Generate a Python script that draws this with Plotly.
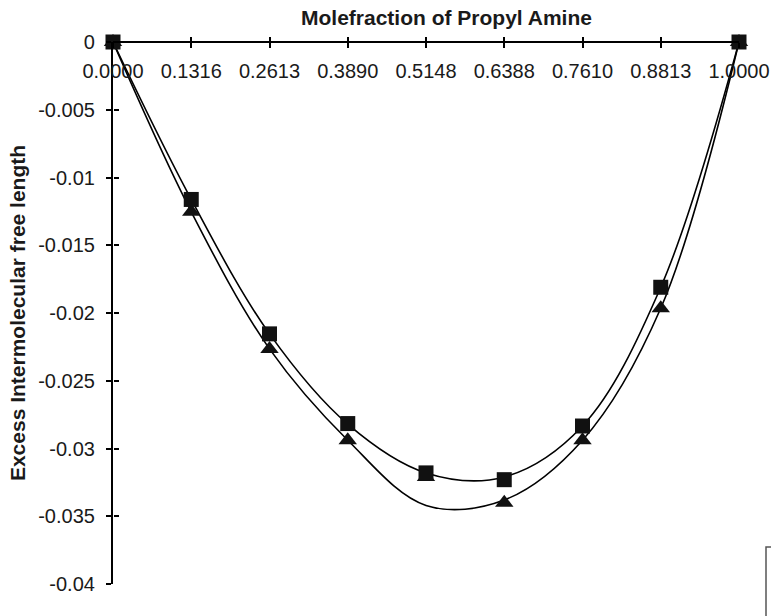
import plotly.graph_objects as go

# ---- data ----
categories = ["0.0000", "0.1316", "0.2613", "0.3890", "0.5148",
              "0.6388", "0.7610", "0.8813", "1.0000"]
# measured points (markers)
series_square = [0.0, -0.01162, -0.02154, -0.02816, -0.03180,
                 -0.03230, -0.02834, -0.01810, 0.0]
series_triangle = [0.0, -0.01253, -0.02265, -0.02939, -0.03210,
                   -0.03400, -0.02939, -0.01965, 0.0]
# smoothed curves at each category
curve_square = [0.0, -0.01162, -0.02154, -0.02820, -0.03180,
                -0.03210, -0.02834, -0.01810, 0.0]
curve_triangle = [0.0, -0.01253, -0.02265, -0.02939, -0.03420,
                  -0.03380, -0.02939, -0.01965, 0.0]
y_tickvals = [0, -0.005, -0.01, -0.015, -0.02, -0.025, -0.03, -0.035, -0.04]
y_ticktext = ["0", "-0.005", "-0.01", "-0.015", "-0.02", "-0.025", "-0.03", "-0.035", "-0.04"]
x_title = "Molefraction of Propyl Amine"
y_title = "Excess Intermolecular free length"

idx = list(range(len(categories)))

FONT = "Liberation Sans, Arial, sans-serif"

fig = go.Figure()

for vals in [curve_triangle, curve_square]:
    fig.add_trace(go.Scatter(x=idx, y=vals, mode="lines",
                             line=dict(color="black", width=1.6, shape="spline", smoothing=1.0),
                             hoverinfo="skip", showlegend=False, cliponaxis=False))
for vals, sym, size in [(series_triangle, "triangle-up", 16), (series_square, "square", 15)]:
    fig.add_trace(go.Scatter(x=idx, y=vals, mode="markers", xaxis="x2", yaxis="y2",
                             marker=dict(symbol=sym, size=size, color="#111111"),
                             showlegend=False, cliponaxis=False))

fig.update_layout(
    width=771, height=616,
    margin=dict(l=113, r=32, t=42, b=32, autoexpand=False),
    paper_bgcolor="white", plot_bgcolor="white",
    font=dict(family=FONT, size=20, color="#1a1a1a"),
    xaxis=dict(range=[0, 8], anchor="free", position=1, side="bottom",
               showline=True, linecolor="black", linewidth=2.2,
               showgrid=False, zeroline=False,
               tickvals=idx, ticktext=categories,
               ticks="outside", ticklen=5, tickwidth=2, tickcolor="black",
               ticklabelstandoff=6),
    xaxis2=dict(range=[0, 8], overlaying="x", anchor="free", position=1, side="bottom",
                showline=False, showgrid=False, zeroline=False,
                tickvals=idx, ticks="inside", ticklen=5, tickwidth=2,
                tickcolor="black", showticklabels=False),
    yaxis=dict(range=[-0.04, 0], showline=True, linecolor="black", linewidth=2.2,
               showgrid=False, zeroline=False,
               tickvals=y_tickvals, ticktext=y_ticktext,
               ticks="outside", ticklen=5, tickwidth=2, tickcolor="black",
               ticklabelstandoff=7,
               title=dict(text="<b>" + y_title + "</b>", font=dict(size=21), standoff=7)),
    yaxis2=dict(range=[-0.04, 0], overlaying="y", anchor="free", position=0, side="left",
                showline=False, showgrid=False, zeroline=False,
                tickvals=y_tickvals, ticks="inside", ticklen=5, tickwidth=2,
                tickcolor="black", showticklabels=False),
    annotations=[dict(text="<b>" + x_title + "</b>", xref="paper", yref="paper",
                      x=(446 - 113) / 626, y=1 + 25 / 542, xanchor="center", yanchor="middle",
                      showarrow=False, font=dict(size=21, family=FONT, color="#1a1a1a"))],
    shapes=[dict(type="rect", xref="paper", yref="paper",
                 x0=(766 - 113) / 626, x1=1.3, y0=(584 - 547) / 542, y1=-0.3,
                 line=dict(color="#555555", width=1.5), fillcolor="white")],
)

fig.write_html("out.html")
